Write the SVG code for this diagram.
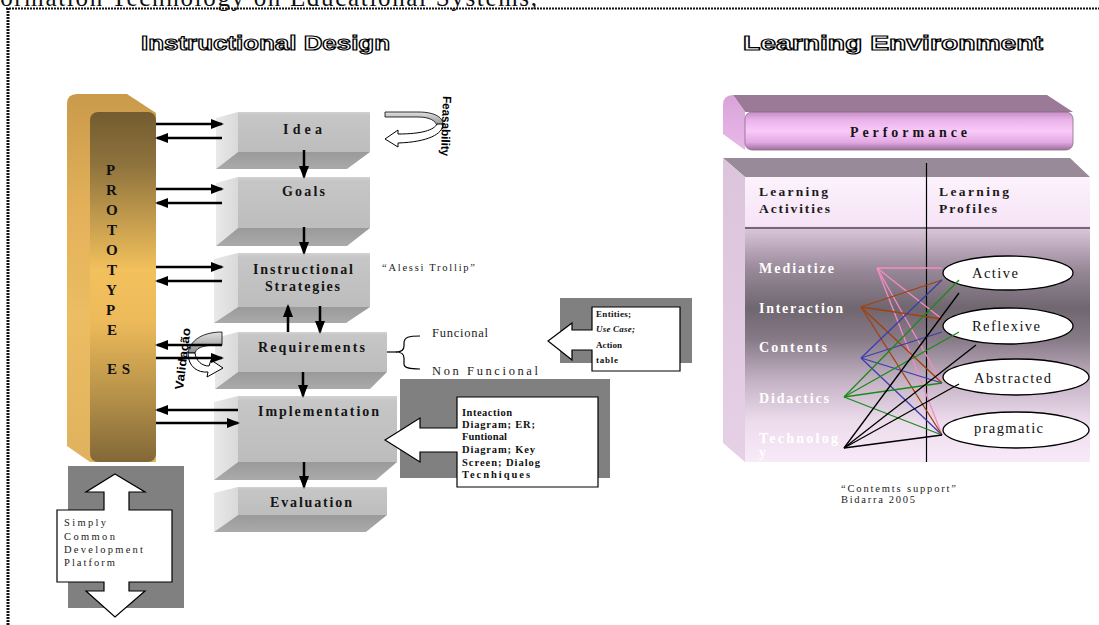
<svg xmlns="http://www.w3.org/2000/svg" width="1099" height="625" viewBox="0 0 1099 625">
<defs>
  <marker id="ah" markerUnits="userSpaceOnUse" markerWidth="13" markerHeight="10" refX="11" refY="5" orient="auto">
    <path d="M0,0 L13,5 L0,10 Z" fill="#000"/>
  </marker>
  <linearGradient id="gFront" x1="0" y1="0" x2="0" y2="1">
    <stop offset="0" stop-color="#d2d2d2"/>
    <stop offset="0.08" stop-color="#c6c6c6"/>
    <stop offset="1" stop-color="#bdbdbd"/>
  </linearGradient>
  <linearGradient id="gSide" x1="0" y1="0" x2="1" y2="0">
    <stop offset="0" stop-color="#e9e9e9"/>
    <stop offset="1" stop-color="#d9d9d9"/>
  </linearGradient>
  <linearGradient id="gBot" x1="0" y1="0" x2="0" y2="1">
    <stop offset="0" stop-color="#9a9a9a"/>
    <stop offset="1" stop-color="#aaaaaa"/>
  </linearGradient>
  <linearGradient id="gProtoOut" x1="0" y1="0" x2="0" y2="1">
    <stop offset="0" stop-color="#c99a4b"/>
    <stop offset="0.3" stop-color="#e2b059"/>
    <stop offset="0.6" stop-color="#ecbd62"/>
    <stop offset="1" stop-color="#e0b25e"/>
  </linearGradient>
  <linearGradient id="gProtoFront" x1="0" y1="0" x2="0" y2="1">
    <stop offset="0" stop-color="#735c30"/>
    <stop offset="0.15" stop-color="#8e733d"/>
    <stop offset="0.45" stop-color="#f2c05c"/>
    <stop offset="0.6" stop-color="#ecba5a"/>
    <stop offset="0.82" stop-color="#b38f48"/>
    <stop offset="1" stop-color="#826838"/>
  </linearGradient>
  <linearGradient id="gPerf" x1="0" y1="0" x2="0" y2="1">
    <stop offset="0" stop-color="#c58ec5"/>
    <stop offset="0.2" stop-color="#e8b2e8"/>
    <stop offset="0.5" stop-color="#f9caf9"/>
    <stop offset="0.8" stop-color="#e2a8e2"/>
    <stop offset="1" stop-color="#9c709c"/>
  </linearGradient>
  <linearGradient id="gPerfSide" x1="0" y1="0" x2="0" y2="1">
    <stop offset="0" stop-color="#d8a4d8"/>
    <stop offset="1" stop-color="#e8b8e8"/>
  </linearGradient>
  <linearGradient id="gTable" x1="0" y1="0" x2="0" y2="1">
    <stop offset="0" stop-color="#fcf2fc"/>
    <stop offset="0.17" stop-color="#f6e4f6"/>
    <stop offset="0.185" stop-color="#d8c4d8"/>
    <stop offset="0.32" stop-color="#9a8a9a"/>
    <stop offset="0.46" stop-color="#6f666f"/>
    <stop offset="0.57" stop-color="#877a87"/>
    <stop offset="0.72" stop-color="#c6b4c6"/>
    <stop offset="0.86" stop-color="#ecdcec"/>
    <stop offset="1" stop-color="#f9eaf9"/>
  </linearGradient>
  <linearGradient id="gTableSide" x1="0" y1="0" x2="0" y2="1">
    <stop offset="0" stop-color="#dcc4dc"/>
    <stop offset="1" stop-color="#e6d0e6"/>
  </linearGradient>
  <linearGradient id="gRib" x1="0" y1="0" x2="0" y2="1">
    <stop offset="0" stop-color="#e0e0e0"/>
    <stop offset="1" stop-color="#8e8e8e"/>
  </linearGradient>
</defs>
<style>
.front{fill:url(#gFront)}
.side{fill:url(#gSide)}
.bot{fill:url(#gBot)}
.lbl{font-family:"Liberation Serif","Times New Roman",serif;font-weight:bold;font-size:14px;fill:#151515}
.sm{font-family:"Liberation Serif","Times New Roman",serif;font-size:10.5px;fill:#222}
.fn{font-family:"Liberation Serif","Times New Roman",serif;font-size:12.5px;fill:#222}
.cb{font-family:"Liberation Serif","Times New Roman",serif;font-weight:bold;font-size:10.5px;fill:#111}
.cs{font-family:"Liberation Serif","Times New Roman",serif;font-weight:bold;font-size:9px;fill:#111}
.proto{font-family:"Liberation Serif","Times New Roman",serif;font-weight:bold;font-size:15px;fill:#111}
.hd{font-family:"Liberation Sans",Arial,sans-serif;font-weight:bold;font-size:21px;fill:#fff;stroke:#000;stroke-width:1.2}
.rot{font-family:"Liberation Sans",Arial,sans-serif;font-weight:bold;font-size:12px;fill:#000}
.arr{stroke:#000;stroke-width:2.5;fill:none;marker-end:url(#ah)}
.row{font-family:"Liberation Serif","Times New Roman",serif;font-weight:bold;font-size:14px;fill:#fff}
.hdr{font-family:"Liberation Serif","Times New Roman",serif;font-weight:bold;font-size:13.5px;fill:#1a1a1a}
.ell{fill:#fff;stroke:#000;stroke-width:1.3}
.elt{font-family:"Liberation Serif","Times New Roman",serif;font-size:14.5px;fill:#111}
.pk{stroke:#f58cc4;stroke-width:1.3}
.br{stroke:#a3400c;stroke-width:1.3}
.bl{stroke:#3c3cb0;stroke-width:1.3}
.gr{stroke:#1b8a1b;stroke-width:1.3}
.bk{stroke:#000;stroke-width:1.3}
.callout{fill:#fff;stroke:#000;stroke-width:1.2}
.shade{fill:#808080}
</style>
<rect x="0" y="0" width="1099" height="625" fill="#fff"/>

<!-- page header and frame -->
<text x="-34" y="5.5" textLength="571" lengthAdjust="spacing" font-family="'Liberation Serif','Times New Roman',serif" font-size="25" fill="#111">Information Technology on Educational Systems,</text>
<line x1="6" y1="8.5" x2="1099" y2="8.5" stroke="#111" stroke-width="2" stroke-dasharray="2 1"/>
<line x1="8" y1="8" x2="8" y2="625" stroke="#111" stroke-width="3" stroke-dasharray="2 1"/>

<text class="hd" x="141" y="50" textLength="249" lengthAdjust="spacingAndGlyphs">Instructional Design</text>
<text class="hd" x="743" y="50" textLength="300" lengthAdjust="spacingAndGlyphs">Learning Environment</text>

<!-- Prototype ES -->
<g id="prototype">
  <path d="M67,104 Q67,94 77,94 L127,94 L156,113 L156,462 L90,462 L67,446 Z" fill="url(#gProtoOut)"/>
  <rect x="90" y="112" width="66" height="350" rx="8" fill="url(#gProtoFront)"/>
  <text class="proto" x="106" y="175">P</text>
  <text class="proto" x="106" y="195">R</text>
  <text class="proto" x="106" y="215">O</text>
  <text class="proto" x="107" y="235">T</text>
  <text class="proto" x="106" y="255">O</text>
  <text class="proto" x="107" y="275">T</text>
  <text class="proto" x="106" y="295">Y</text>
  <text class="proto" x="106" y="315">P</text>
  <text class="proto" x="107" y="335">E</text>
  <text class="proto" x="107" y="374" textLength="23" lengthAdjust="spacing">ES</text>
</g>

<!-- Process boxes -->
<g id="idea">
  <polygon class="side" points="216,118 238,112 238,152 216,169"/>
  <polygon class="bot" points="238,152 370,152 347,169 216,169"/>
  <rect class="front" x="238" y="112" width="132" height="40"/>
  <text class="lbl" x="283" y="134" textLength="39" lengthAdjust="spacing">Idea</text>
</g>
<g id="goals">
  <polygon class="side" points="216,183 238,177 238,228 216,246"/>
  <polygon class="bot" points="238,228 370,228 347,246 216,246"/>
  <rect class="front" x="238" y="177" width="132" height="51"/>
  <text class="lbl" x="282" y="196" textLength="43" lengthAdjust="spacing">Goals</text>
</g>
<g id="strategies">
  <polygon class="side" points="214,259 238,253 238,307 214,323"/>
  <polygon class="bot" points="238,307 370,307 346,323 214,323"/>
  <rect class="front" x="238" y="253" width="132" height="54"/>
  <text class="lbl" x="253" y="274" textLength="100" lengthAdjust="spacing">Instructional</text>
  <text class="lbl" x="265" y="291" textLength="75" lengthAdjust="spacing">Strategies</text>
</g>
<g id="requirements">
  <polygon class="side" points="215,338 238,332 238,372 215,389"/>
  <polygon class="bot" points="238,372 387,372 370,389 215,389"/>
  <rect class="front" x="238" y="332" width="149" height="40"/>
  <text class="lbl" x="258" y="352" textLength="107" lengthAdjust="spacing">Requirements</text>
</g>
<g id="implementation">
  <polygon class="side" points="214,402 238,396 238,462 214,480"/>
  <polygon class="bot" points="238,462 397,462 376,480 214,480"/>
  <rect class="front" x="238" y="396" width="159" height="66"/>
  <text class="lbl" x="258" y="416" textLength="121" lengthAdjust="spacing">Implementation</text>
</g>
<g id="evaluation">
  <polygon class="side" points="214,493 238,487 238,515 214,532"/>
  <polygon class="bot" points="238,515 387,515 366,532 214,532"/>
  <rect class="front" x="238" y="487" width="149" height="28"/>
  <text class="lbl" x="270" y="507" textLength="82" lengthAdjust="spacing">Evaluation</text>
</g>

<!-- Feasability loop -->
<g id="feasability">
  <path d="M385,112 L418,112 C436,112 444,118 443,126 L437,126 C436,121 430,117 418,117 L385,117 Z" fill="url(#gRib)" stroke="#000" stroke-width="0.8"/>
  <path d="M443,124 C443,134 428,142 398,143 L398,147 L385,139 L398,130 L398,134 C422,134 434,130 437,124 Z" fill="#fff" stroke="#000" stroke-width="1"/>
  <text class="rot" transform="translate(443,96) rotate(92)" textLength="60" lengthAdjust="spacingAndGlyphs">Feasability</text>
</g>

<!-- Validação loop -->
<g id="validacao">
  <path d="M222,332 C203,332 190,340 188,353 L195,353 C197,346 207,345 222,345 Z" fill="url(#gRib)" stroke="#000" stroke-width="0.8"/>
  <path d="M188,353 C188,367 198,373 208,372 L207,377 L223,368 L211,360 L209,366 C202,366 196,361 195,353 Z" fill="#fff" stroke="#000" stroke-width="1"/>
  <text class="rot" transform="translate(183,390) rotate(-83)" textLength="62" lengthAdjust="spacingAndGlyphs">Validação</text>
</g>

<!-- notes -->
<g id="alessi">
  <text class="sm" x="382" y="271" textLength="93" lengthAdjust="spacing">“Alessi Trollip”</text>
</g>
<g id="funcional">
  <text class="fn" x="432" y="337" textLength="56" lengthAdjust="spacing">Funcional</text>
  <text class="fn" x="432" y="375" textLength="106" lengthAdjust="spacing">Non Funcional</text>
</g>

<!-- Entities callout -->
<g id="entities">
  <rect class="shade" x="560" y="298" width="132" height="65"/>
  <path class="callout" d="M592,307 L680,307 L680,371 L592,371 L592,350 L572,350 L572,360 L548,341 L572,323 L572,330 L592,330 Z"/>
  <text class="cs" x="596" y="317" textLength="35" lengthAdjust="spacing">Entities;</text>
  <text class="cs" x="596" y="332" textLength="39" lengthAdjust="spacing" font-style="italic">Use Case;</text>
  <text class="cs" x="596" y="348" textLength="26" lengthAdjust="spacing">Action</text>
  <text class="cs" x="596" y="363" textLength="22" lengthAdjust="spacing">table</text>
</g>

<!-- Implementation callout -->
<g id="impl-artifacts">
  <rect class="shade" x="400" y="379" width="210" height="99"/>
  <path class="callout" d="M457,397 L598,397 L598,487 L457,487 L457,452 L420,452 L420,462 L385,440 L420,418 L420,428 L457,428 Z"/>
  <text class="cb" x="462" y="416" textLength="50" lengthAdjust="spacing">Inteaction</text>
  <text class="cb" x="462" y="428" textLength="73" lengthAdjust="spacing">Diagram; ER;</text>
  <text class="cb" x="462" y="440" textLength="45" lengthAdjust="spacing">Funtional</text>
  <text class="cb" x="462" y="453" textLength="73" lengthAdjust="spacing">Diagram; Key</text>
  <text class="cb" x="462" y="466" textLength="78" lengthAdjust="spacing">Screen; Dialog</text>
  <text class="cb" x="462" y="478" textLength="68" lengthAdjust="spacing">Tecnhiques</text>
</g>

<!-- Platform -->
<g id="platform">
  <rect class="shade" x="68" y="466" width="116" height="142"/>
  <path class="callout" d="M115,474 L145,492 L129,492 L129,510 L172,510 L172,582 L129,582 L129,591 L145,591 L115,617 L86,591 L104,591 L104,582 L57,582 L57,510 L104,510 L104,492 L86,492 Z"/>
  <text class="sm" x="64" y="526" textLength="42" lengthAdjust="spacing">Simply</text>
  <text class="sm" x="64" y="540" textLength="51" lengthAdjust="spacing">Common</text>
  <text class="sm" x="64" y="553" textLength="79" lengthAdjust="spacing">Development</text>
  <text class="sm" x="64" y="566" textLength="51" lengthAdjust="spacing">Platform</text>
</g>

<!-- Learning environment -->
<g id="performance">
  <path d="M733,95 L1047,95 L1073,112 L745,112 Z" fill="#9b7a98"/>
  <path d="M723,105 Q723,95 733,95 L745,112 L745,150 L723,134 Z" fill="url(#gPerfSide)"/>
  <rect x="745" y="112" width="328" height="38" rx="7" fill="url(#gPerf)" stroke="#8a6a88" stroke-width="0.8"/>
  <text class="lbl" x="850" y="137" textLength="117" lengthAdjust="spacing">Performance</text>
</g>

<g id="matrix">
  <polygon points="723,158 1070,158 1090,177 745,177" fill="#988a98"/>
  <polygon points="723,158 745,177 745,462 723,443" fill="url(#gTableSide)"/>
  <rect x="745" y="177" width="345" height="285" fill="url(#gTable)"/>
  <line x1="745" y1="228" x2="1090" y2="228" stroke="#000" stroke-width="1.2"/>
  <line x1="926.5" y1="163" x2="926.5" y2="462" stroke="#000" stroke-width="1.2"/>
  <text class="hdr" x="759" y="196" textLength="69" lengthAdjust="spacing">Learning</text>
  <text class="hdr" x="759" y="213" textLength="71" lengthAdjust="spacing">Activities</text>
  <text class="hdr" x="939" y="196" textLength="70" lengthAdjust="spacing">Learning</text>
  <text class="hdr" x="939" y="213" textLength="58" lengthAdjust="spacing">Profiles</text>
  <text class="row" x="759" y="273" textLength="75" lengthAdjust="spacing">Mediatize</text>
  <text class="row" x="759" y="313" textLength="84" lengthAdjust="spacing">Interaction</text>
  <text class="row" x="759" y="352" textLength="68" lengthAdjust="spacing">Contents</text>
  <text class="row" x="759" y="403" textLength="70" lengthAdjust="spacing">Didactics</text>
  <text class="row" x="759" y="443" textLength="79" lengthAdjust="spacing">Technolog</text>
  <text class="row" x="759" y="457">y</text>
</g>

<g id="active">
  <ellipse class="ell" cx="1008" cy="273" rx="65" ry="17"/>
  <text class="elt" x="972" y="278" textLength="46" lengthAdjust="spacing">Active</text>
</g>
<g id="reflexive">
  <ellipse class="ell" cx="1008" cy="326" rx="65" ry="18"/>
  <text class="elt" x="972" y="331" textLength="68" lengthAdjust="spacing">Reflexive</text>
</g>
<g id="abstracted">
  <ellipse class="ell" cx="1016" cy="377" rx="73" ry="18"/>
  <text class="elt" x="974" y="383" textLength="77" lengthAdjust="spacing">Abstracted</text>
</g>
<g id="pragmatic">
  <ellipse class="ell" cx="1016" cy="430" rx="73" ry="18"/>
  <text class="elt" x="974" y="433" textLength="69" lengthAdjust="spacing">pragmatic</text>
</g>

<g id="caption">
  <text class="sm" x="841" y="492" textLength="115" lengthAdjust="spacing">“Contemts support”</text>
  <text class="sm" x="841" y="503" textLength="74" lengthAdjust="spacing">Bidarra 2005</text>
</g>

<!-- connectors -->
<g id="connectors">
  <line class="arr" x1="156" y1="124" x2="222" y2="124"/>
  <line class="arr" x1="222" y1="138" x2="157" y2="138"/>
  <line class="arr" x1="156" y1="189" x2="222" y2="189"/>
  <line class="arr" x1="222" y1="203" x2="157" y2="203"/>
  <line class="arr" x1="156" y1="267" x2="222" y2="267"/>
  <line class="arr" x1="222" y1="281" x2="157" y2="281"/>
  <line class="arr" x1="222" y1="345" x2="157" y2="345"/>
  <line class="arr" x1="156" y1="358" x2="222" y2="358"/>
  <line class="arr" x1="238" y1="410" x2="157" y2="410"/>
  <line class="arr" x1="156" y1="423" x2="238" y2="423"/>

  <line class="arr" x1="304" y1="150" x2="304" y2="177"/>
  <line class="arr" x1="304" y1="227" x2="304" y2="253"/>
  <line class="arr" x1="288" y1="332" x2="288" y2="306"/>
  <line class="arr" x1="320" y1="306" x2="320" y2="332"/>
  <line class="arr" x1="303" y1="372" x2="303" y2="396"/>
  <line class="arr" x1="304" y1="462" x2="304" y2="487"/>

  <line x1="387" y1="352" x2="397" y2="352" stroke="#000" stroke-width="1.2"/>
  <path d="M420,336 C409,336 404,337 404,343 L404,346 C404,350 401,352 396,352 C401,352 404,354 404,358 L404,364 C404,368 409,369 420,369" fill="none" stroke="#000" stroke-width="1.2"/>

  <line class="pk" x1="877" y1="268" x2="942" y2="268"/>
  <line class="pk" x1="877" y1="268" x2="942" y2="319"/>
  <line class="pk" x1="877" y1="268" x2="942" y2="383"/>
  <line class="pk" x1="877" y1="268" x2="942" y2="435"/>
  <line class="br" x1="861" y1="307" x2="942" y2="280"/>
  <line class="br" x1="861" y1="307" x2="942" y2="319"/>
  <line class="br" x1="861" y1="307" x2="942" y2="383"/>
  <line class="br" x1="861" y1="307" x2="942" y2="435"/>
  <line class="bl" x1="861" y1="358" x2="942" y2="280"/>
  <line class="bl" x1="861" y1="358" x2="942" y2="332"/>
  <line class="bl" x1="861" y1="358" x2="942" y2="383"/>
  <line class="bl" x1="861" y1="358" x2="942" y2="435"/>
  <line class="gr" x1="844" y1="397" x2="959" y2="280"/>
  <line class="gr" x1="844" y1="397" x2="959" y2="332"/>
  <line class="gr" x1="844" y1="397" x2="942" y2="383"/>
  <line class="gr" x1="844" y1="397" x2="942" y2="435"/>
  <line class="bk" x1="844" y1="448" x2="959" y2="293"/>
  <line class="bk" x1="844" y1="448" x2="976" y2="345"/>
  <line class="bk" x1="844" y1="448" x2="959" y2="384"/>
  <line class="bk" x1="844" y1="448" x2="942" y2="435"/>
</g>
</svg>
